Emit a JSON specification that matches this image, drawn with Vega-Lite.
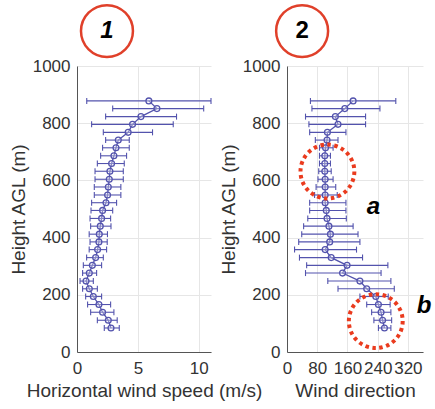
{
  "$schema": "https://vega.github.io/schema/vega-lite/v6.json",
  "background": "white",
  "padding": {"left": 9, "top": 0, "right": 2, "bottom": 2},
  "spacing": 76,
  "bounds": "flush",
  "datasets": {
    "prof": [
      {"h": 84, "s": 2.79, "sLo": 2.24, "sHi": 3.47, "d": 258, "dLo": 242, "dHi": 275},
      {"h": 111, "s": 2.57, "sLo": 1.67, "sHi": 3.3, "d": 253, "dLo": 230, "dHi": 277},
      {"h": 139, "s": 2.1, "sLo": 1.12, "sHi": 3.03, "d": 249, "dLo": 224, "dHi": 275},
      {"h": 166, "s": 1.8, "sLo": 0.87, "sHi": 2.76, "d": 242, "dLo": 211, "dHi": 273},
      {"h": 194, "s": 1.34, "sLo": 0.71, "sHi": 2.02, "d": 235, "dLo": 193, "dHi": 268},
      {"h": 221, "s": 1.01, "sLo": 0.46, "sHi": 1.67, "d": 211, "dLo": 135, "dHi": 284},
      {"h": 248, "s": 0.74, "sLo": 0.25, "sHi": 1.34, "d": 193, "dLo": 108, "dHi": 275},
      {"h": 276, "s": 1.01, "sLo": 0.46, "sHi": 1.61, "d": 147, "dLo": 49, "dHi": 249},
      {"h": 303, "s": 1.26, "sLo": 0.52, "sHi": 2.02, "d": 159, "dLo": 52, "dHi": 267},
      {"h": 330, "s": 1.53, "sLo": 0.79, "sHi": 2.16, "d": 117, "dLo": 33, "dHi": 200},
      {"h": 358, "s": 1.69, "sLo": 1.0, "sHi": 2.43, "d": 101, "dLo": 20, "dHi": 184},
      {"h": 385, "s": 1.8, "sLo": 1.07, "sHi": 2.48, "d": 113, "dLo": 31, "dHi": 193},
      {"h": 412, "s": 1.83, "sLo": 1.0, "sHi": 2.5, "d": 115, "dLo": 39, "dHi": 188},
      {"h": 440, "s": 1.91, "sLo": 1.12, "sHi": 2.79, "d": 111, "dLo": 44, "dHi": 175},
      {"h": 467, "s": 2.02, "sLo": 1.07, "sHi": 2.76, "d": 106, "dLo": 55, "dHi": 157},
      {"h": 495, "s": 2.1, "sLo": 1.15, "sHi": 2.93, "d": 104, "dLo": 60, "dHi": 156},
      {"h": 522, "s": 2.38, "sLo": 1.2, "sHi": 3.25, "d": 101, "dLo": 60, "dHi": 156},
      {"h": 549, "s": 2.51, "sLo": 1.42, "sHi": 3.6, "d": 101, "dLo": 73, "dHi": 133},
      {"h": 577, "s": 2.57, "sLo": 1.42, "sHi": 3.6, "d": 101, "dLo": 77, "dHi": 129},
      {"h": 604, "s": 2.65, "sLo": 1.48, "sHi": 3.8, "d": 101, "dLo": 82, "dHi": 122},
      {"h": 632, "s": 2.7, "sLo": 1.48, "sHi": 3.8, "d": 100, "dLo": 84, "dHi": 117},
      {"h": 659, "s": 2.84, "sLo": 1.67, "sHi": 3.88, "d": 100, "dLo": 86, "dHi": 115},
      {"h": 686, "s": 3.03, "sLo": 1.94, "sHi": 4.07, "d": 100, "dLo": 86, "dHi": 115},
      {"h": 714, "s": 3.2, "sLo": 2.1, "sHi": 4.29, "d": 102, "dLo": 86, "dHi": 122},
      {"h": 741, "s": 3.39, "sLo": 2.35, "sHi": 4.29, "d": 106, "dLo": 75, "dHi": 135},
      {"h": 768, "s": 4.2, "sLo": 2.16, "sHi": 6.2, "d": 107, "dLo": 60, "dHi": 156},
      {"h": 796, "s": 4.56, "sLo": 1.2, "sHi": 7.9, "d": 135, "dLo": 58, "dHi": 208},
      {"h": 823, "s": 5.25, "sLo": 2.35, "sHi": 8.17, "d": 128, "dLo": 49, "dHi": 208},
      {"h": 851, "s": 6.56, "sLo": 2.93, "sHi": 10.4, "d": 153, "dLo": 66, "dHi": 246},
      {"h": 878, "s": 5.9, "sLo": 0.8, "sHi": 11.0, "d": 175, "dLo": 62, "dHi": 288}
    ],
    "ann1": [
      {"s": 2.46, "h": 1122, "label": "1"}
    ],
    "ann2": [
      {"d": 40, "h": 1122, "label": "2"}
    ],
    "circ2": [
      {"d": 107, "h": 631},
      {"d": 235, "h": 108}
    ],
    "let2": [
      {"d": 229, "h": 507, "label": "a"},
      {"d": 363, "h": 161, "label": "b"}
    ]
  },
  "hconcat": [
    {
      "width": 134,
      "height": 286,
      "layer": [
        {
          "data": {"name": "prof"},
          "mark": {"type": "rule", "color": "#5353ad", "strokeWidth": 1.1},
          "encoding": {
            "x": {"field": "sLo", "type": "quantitative", "title": "Horizontal wind speed (m/s)", "scale": {"domain": [0, 11], "nice": false}, "axis": {"values": [0, 5, 10], "format": "d", "labelOverlap": false, "labelFlush": false}},
            "x2": {"field": "sHi"},
            "y": {"field": "h", "type": "quantitative", "title": "Height AGL (m)", "scale": {"domain": [0, 1000], "nice": false}, "axis": {"values": [0, 200, 400, 600, 800, 1000], "format": "d", "labelOverlap": false, "labelFlush": false}}
          }
        },
        {
          "data": {"name": "prof"},
          "mark": {"type": "tick", "orient": "vertical", "color": "#5353ad", "size": 6, "thickness": 1.1, "opacity": 1},
          "encoding": {
            "x": {"field": "sLo", "type": "quantitative", "title": "Horizontal wind speed (m/s)", "axis": {"values": [0, 5, 10], "format": "d", "labelOverlap": false, "labelFlush": false}},
            "y": {"field": "h", "type": "quantitative", "title": "Height AGL (m)", "axis": {"values": [0, 200, 400, 600, 800, 1000], "format": "d", "labelOverlap": false, "labelFlush": false}}
          }
        },
        {
          "data": {"name": "prof"},
          "mark": {"type": "tick", "orient": "vertical", "color": "#5353ad", "size": 6, "thickness": 1.1, "opacity": 1},
          "encoding": {
            "x": {"field": "sHi", "type": "quantitative", "title": "Horizontal wind speed (m/s)", "axis": {"values": [0, 5, 10], "format": "d", "labelOverlap": false, "labelFlush": false}},
            "y": {"field": "h", "type": "quantitative", "title": "Height AGL (m)", "axis": {"values": [0, 200, 400, 600, 800, 1000], "format": "d", "labelOverlap": false, "labelFlush": false}}
          }
        },
        {
          "data": {"name": "prof"},
          "mark": {"type": "line", "color": "#5353ad", "strokeWidth": 1.3, "point": {"filled": false, "size": 34, "strokeWidth": 1.3, "color": "#5353ad", "fill": "white", "fillOpacity": 0.3, "opacity": 1}},
          "encoding": {
            "x": {"field": "s", "type": "quantitative", "title": "Horizontal wind speed (m/s)", "axis": {"values": [0, 5, 10], "format": "d", "labelOverlap": false, "labelFlush": false}},
            "y": {"field": "h", "type": "quantitative", "title": "Height AGL (m)", "axis": {"values": [0, 200, 400, 600, 800, 1000], "format": "d", "labelOverlap": false, "labelFlush": false}},
            "order": {"field": "h", "type": "quantitative"}
          }
        },
        {
          "data": {"name": "ann1"},
          "mark": {"type": "point", "shape": "circle", "filled": false, "size": 2700, "stroke": "#e0402a", "strokeWidth": 2.5, "opacity": 1, "clip": false},
          "encoding": {
            "x": {"field": "s", "type": "quantitative", "title": "Horizontal wind speed (m/s)", "axis": {"values": [0, 5, 10], "format": "d", "labelOverlap": false, "labelFlush": false}},
            "y": {"field": "h", "type": "quantitative", "title": "Height AGL (m)", "axis": {"values": [0, 200, 400, 600, 800, 1000], "format": "d", "labelOverlap": false, "labelFlush": false}}
          }
        },
        {
          "data": {"name": "ann1"},
          "mark": {"type": "text", "font": "Liberation Sans", "fontSize": 24, "fontWeight": "bold", "fontStyle": "italic", "color": "black", "baseline": "middle", "align": "center", "clip": false},
          "encoding": {
            "x": {"field": "s", "type": "quantitative", "title": "Horizontal wind speed (m/s)", "axis": {"values": [0, 5, 10], "format": "d", "labelOverlap": false, "labelFlush": false}},
            "y": {"field": "h", "type": "quantitative", "title": "Height AGL (m)", "axis": {"values": [0, 200, 400, 600, 800, 1000], "format": "d", "labelOverlap": false, "labelFlush": false}},
            "text": {"field": "label"}
          }
        }
      ]
    },
    {
      "width": 136,
      "height": 286,
      "layer": [
        {
          "data": {"name": "prof"},
          "mark": {"type": "rule", "color": "#5353ad", "strokeWidth": 1.1},
          "encoding": {
            "x": {"field": "dLo", "type": "quantitative", "title": "Wind direction", "scale": {"domain": [0, 360], "nice": false}, "axis": {"values": [0, 80, 160, 240, 320], "format": "d", "labelOverlap": false, "labelFlush": false}},
            "x2": {"field": "dHi"},
            "y": {"field": "h", "type": "quantitative", "title": "Height AGL (m)", "scale": {"domain": [0, 1000], "nice": false}, "axis": {"values": [0, 200, 400, 600, 800, 1000], "format": "d", "labelOverlap": false, "labelFlush": false}}
          }
        },
        {
          "data": {"name": "prof"},
          "mark": {"type": "tick", "orient": "vertical", "color": "#5353ad", "size": 6, "thickness": 1.1, "opacity": 1},
          "encoding": {
            "x": {"field": "dLo", "type": "quantitative", "title": "Wind direction", "axis": {"values": [0, 80, 160, 240, 320], "format": "d", "labelOverlap": false, "labelFlush": false}},
            "y": {"field": "h", "type": "quantitative", "title": "Height AGL (m)", "axis": {"values": [0, 200, 400, 600, 800, 1000], "format": "d", "labelOverlap": false, "labelFlush": false}}
          }
        },
        {
          "data": {"name": "prof"},
          "mark": {"type": "tick", "orient": "vertical", "color": "#5353ad", "size": 6, "thickness": 1.1, "opacity": 1},
          "encoding": {
            "x": {"field": "dHi", "type": "quantitative", "title": "Wind direction", "axis": {"values": [0, 80, 160, 240, 320], "format": "d", "labelOverlap": false, "labelFlush": false}},
            "y": {"field": "h", "type": "quantitative", "title": "Height AGL (m)", "axis": {"values": [0, 200, 400, 600, 800, 1000], "format": "d", "labelOverlap": false, "labelFlush": false}}
          }
        },
        {
          "data": {"name": "prof"},
          "mark": {"type": "line", "color": "#5353ad", "strokeWidth": 1.3, "point": {"filled": false, "size": 34, "strokeWidth": 1.3, "color": "#5353ad", "fill": "white", "fillOpacity": 0.3, "opacity": 1}},
          "encoding": {
            "x": {"field": "d", "type": "quantitative", "title": "Wind direction", "axis": {"values": [0, 80, 160, 240, 320], "format": "d", "labelOverlap": false, "labelFlush": false}},
            "y": {"field": "h", "type": "quantitative", "title": "Height AGL (m)", "axis": {"values": [0, 200, 400, 600, 800, 1000], "format": "d", "labelOverlap": false, "labelFlush": false}},
            "order": {"field": "h", "type": "quantitative"}
          }
        },
        {
          "data": {"name": "circ2"},
          "mark": {"type": "point", "shape": "circle", "filled": false, "size": 2900, "stroke": "#ea3b1e", "strokeWidth": 4, "strokeDash": [3.5, 3.5], "opacity": 1, "clip": false},
          "encoding": {
            "x": {"field": "d", "type": "quantitative", "title": "Wind direction", "axis": {"values": [0, 80, 160, 240, 320], "format": "d", "labelOverlap": false, "labelFlush": false}},
            "y": {"field": "h", "type": "quantitative", "title": "Height AGL (m)", "axis": {"values": [0, 200, 400, 600, 800, 1000], "format": "d", "labelOverlap": false, "labelFlush": false}}
          }
        },
        {
          "data": {"name": "ann2"},
          "mark": {"type": "point", "shape": "circle", "filled": false, "size": 2700, "stroke": "#e0402a", "strokeWidth": 2.5, "opacity": 1, "clip": false},
          "encoding": {
            "x": {"field": "d", "type": "quantitative", "title": "Wind direction", "axis": {"values": [0, 80, 160, 240, 320], "format": "d", "labelOverlap": false, "labelFlush": false}},
            "y": {"field": "h", "type": "quantitative", "title": "Height AGL (m)", "axis": {"values": [0, 200, 400, 600, 800, 1000], "format": "d", "labelOverlap": false, "labelFlush": false}}
          }
        },
        {
          "data": {"name": "ann2"},
          "mark": {"type": "text", "font": "Liberation Sans", "fontSize": 24, "fontWeight": "bold", "color": "black", "baseline": "middle", "align": "center", "clip": false},
          "encoding": {
            "x": {"field": "d", "type": "quantitative", "title": "Wind direction", "axis": {"values": [0, 80, 160, 240, 320], "format": "d", "labelOverlap": false, "labelFlush": false}},
            "y": {"field": "h", "type": "quantitative", "title": "Height AGL (m)", "axis": {"values": [0, 200, 400, 600, 800, 1000], "format": "d", "labelOverlap": false, "labelFlush": false}},
            "text": {"field": "label"}
          }
        },
        {
          "data": {"name": "let2"},
          "mark": {"type": "text", "font": "Liberation Sans", "fontSize": 24, "fontWeight": "bold", "fontStyle": "italic", "color": "black", "baseline": "middle", "align": "center", "clip": false},
          "encoding": {
            "x": {"field": "d", "type": "quantitative", "title": "Wind direction", "axis": {"values": [0, 80, 160, 240, 320], "format": "d", "labelOverlap": false, "labelFlush": false}},
            "y": {"field": "h", "type": "quantitative", "title": "Height AGL (m)", "axis": {"values": [0, 200, 400, 600, 800, 1000], "format": "d", "labelOverlap": false, "labelFlush": false}},
            "text": {"field": "label"}
          }
        }
      ]
    }
  ],
  "config": {
    "view": {"stroke": null},
    "font": "Liberation Sans",
    "axis": {
      "labelFont": "Liberation Sans",
      "titleFont": "Liberation Sans",
      "labelFontSize": 17,
      "titleFontSize": 19,
      "titleFontWeight": "normal",
      "labelColor": "#333333",
      "titleColor": "#333333",
      "domainColor": "#555555",
      "gridColor": "#e6e6e6",
      "ticks": false,
      "labelOverlap": false
    },
    "axisX": {"labelPadding": 8, "titlePadding": 5},
    "axisY": {"labelPadding": 7, "titlePadding": 4}
  }
}
